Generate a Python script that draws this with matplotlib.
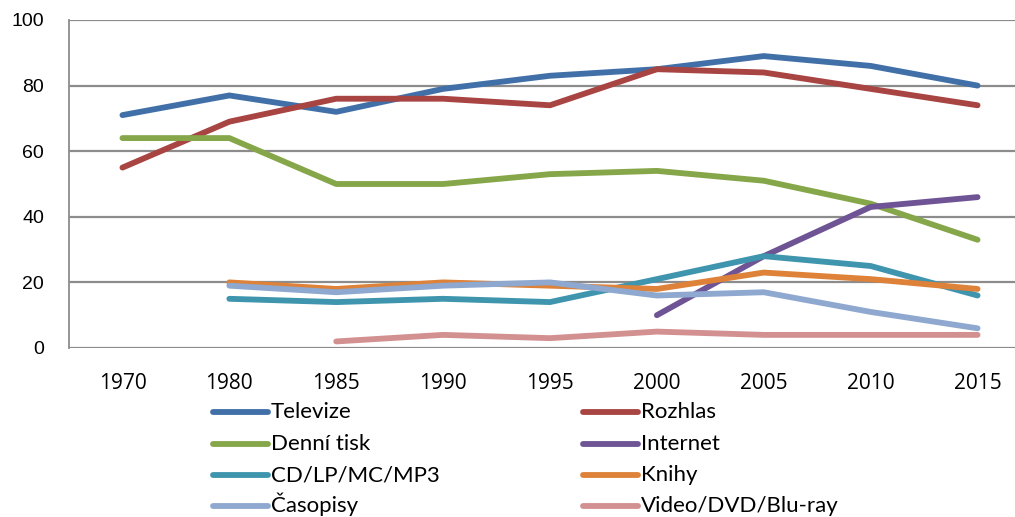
import numpy as np
import matplotlib.pyplot as plt
from matplotlib.lines import Line2D

years = ['1970', '1980', '1985', '1990', '1995', '2000', '2005', '2010', '2015']
nan = np.nan

televize = [71, 77, 72, 79, 83, 85, 89, 86, 80]
rozhlas = [55, 69, 76, 76, 74, 85, 84, 79, 74]
denni_tisk = [64, 64, 50, 50, 53, 54, 51, 44, 33]
internet = [nan, nan, nan, nan, nan, 10, 28, 43, 46]
cd = [nan, 15, 14, 15, 14, 21, 28, 25, 16]
knihy = [nan, 20, 18, 20, 19, 18, 23, 21, 18]
casopisy = [nan, 19, 17, 19, 20, 16, 17, 11, 6]
video = [nan, nan, 2, 4, 3, 5, 4, 4, 4]

series = [
    ('Televize', televize, '#4170a8'),
    ('Rozhlas', rozhlas, '#a84442'),
    ('Denní tisk', denni_tisk, '#86a64a'),
    ('Internet', internet, '#6e5494'),
    ('CD/LP/MC/MP3', cd, '#3e95ad'),
    ('Knihy', knihy, '#dd8238'),
    ('Časopisy', casopisy, '#8ea8cf'),
    ('Video/DVD/Blu-ray', video, '#d39090'),
]

W, H = 1015, 517
fig = plt.figure(figsize=(W / 100, H / 100), dpi=100)
ax = fig.add_axes([69 / W, 169 / H, 962 / W, 328 / H])

x = np.arange(len(years))
for name, vals, col in series:
    ax.plot(x, vals, color=col, lw=4.2, solid_capstyle='round',
            solid_joinstyle='round', label=name)

ax.set_xlim(-0.5, 8.5)
ax.set_ylim(0, 100)
ax.set_yticks(range(0, 101, 20))
ax.set_xticks(x)
ax.set_xticklabels(years, fontfamily='Open Sans', fontsize=15)
for t in ax.get_yticklabels():
    t.set_fontfamily('Liberation Sans')
    t.set_fontsize(14)
ax.tick_params(axis='y', length=0, pad=18)
ax.tick_params(axis='x', length=0, pad=18)
ax.yaxis.grid(True, color='#8c8c8c', lw=1.6)
ax.set_axisbelow(True)
for s in ['top', 'right', 'bottom']:
    ax.spines[s].set_visible(False)
ax.spines['left'].set_color('#8c8c8c')
ax.spines['left'].set_linewidth(1.3)

# legend in two columns, fixed row positions (pixels from top)
col_x = [213, 583]
row_y = [412, 443.5, 475, 506]
for i, (name, vals, col) in enumerate(series):
    lx = col_x[i % 2]
    ly = row_y[i // 2]
    fig.add_artist(Line2D([lx / W, (lx + 55) / W], [1 - ly / H, 1 - ly / H],
                          color=col, lw=4.2, solid_capstyle='round'))
    fig.text((lx + 58) / W, 1 - (ly + 6) / H, name, fontfamily='Lato',
             fontsize=16, va='baseline', ha='left')

fig.savefig('out.png', dpi=100)
